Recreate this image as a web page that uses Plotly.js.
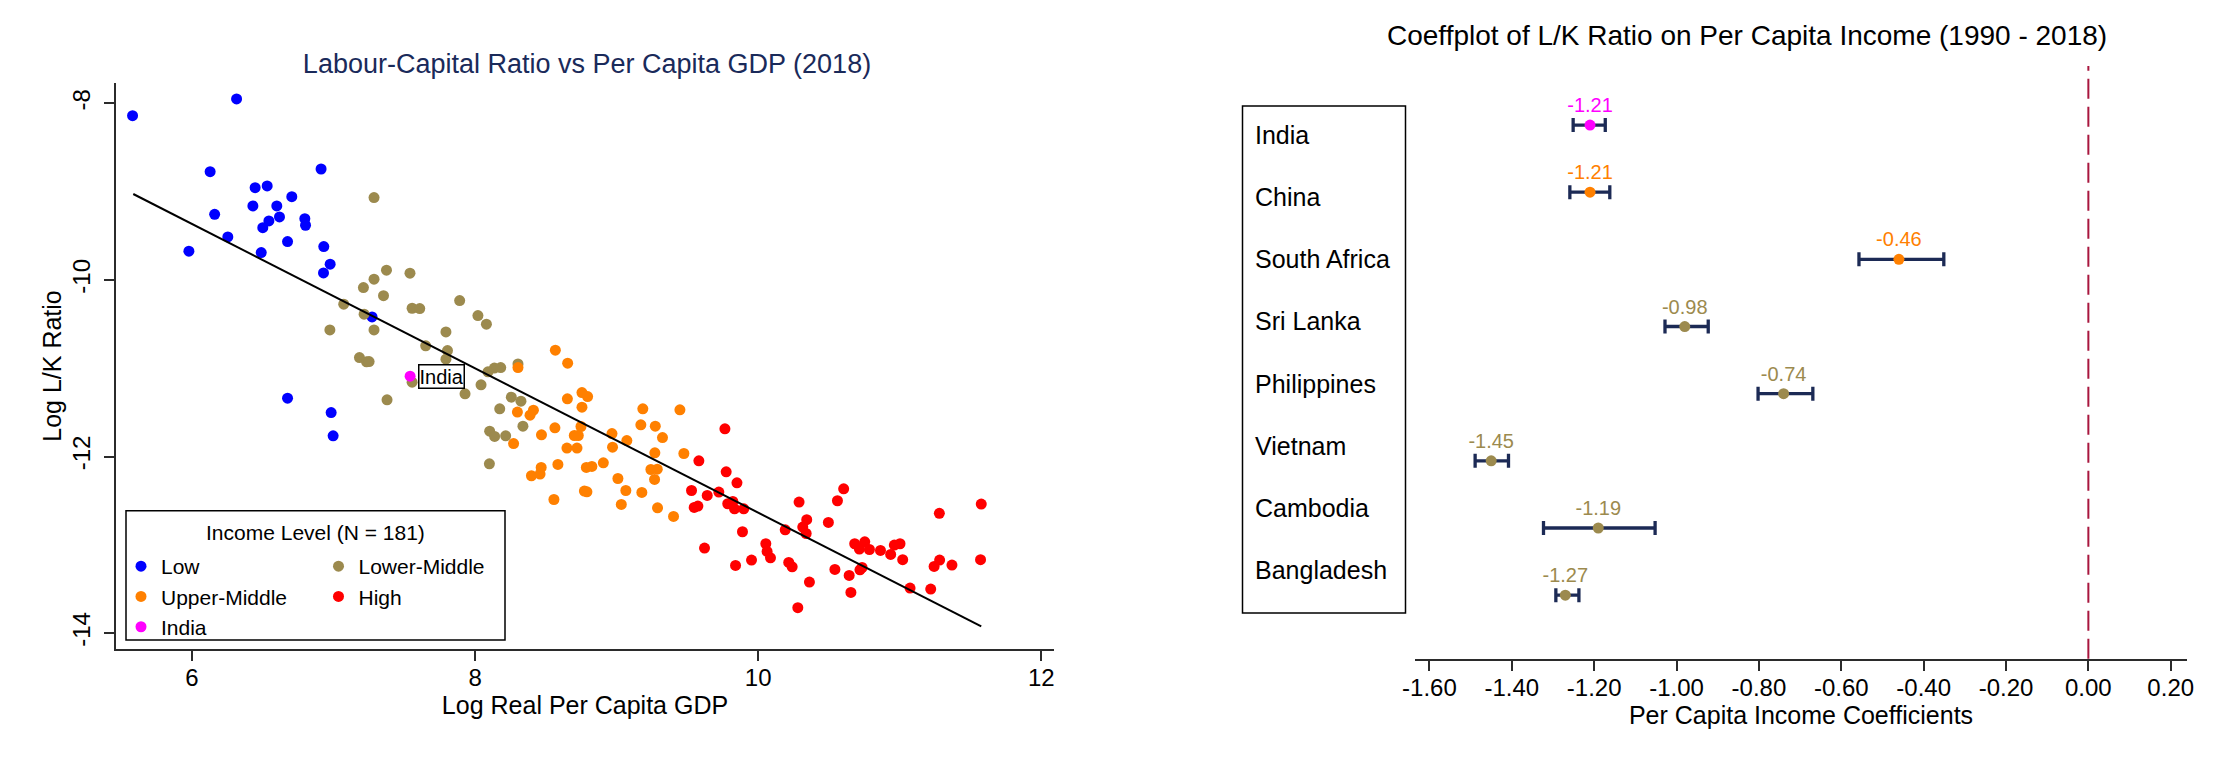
<!DOCTYPE html>
<html>
<head>
<meta charset="utf-8">
<script src="https://cdn.plot.ly/plotly-3.0.1.min.js"></script>
<style>html,body{margin:0;padding:0;background:#fff;}#chart{width:2224px;height:759px;}</style>
</head>
<body>
<div id="chart"></div>
<script>
// ---------- Left panel data: Log real per capita GDP (x) vs Log L/K ratio (y), 2018 ----------
const lowX = [5.58,6.315,6.128,6.912,6.446,6.531,6.705,6.430,6.599,6.160,6.618,6.543,6.500,6.797,6.802,6.253,6.675,6.931,5.978,6.489,6.976,6.929,7.272,6.675,6.983,6.997];
const lowY = [-8.14,-7.95,-8.774,-8.744,-8.955,-8.936,-9.057,-9.162,-9.162,-9.257,-9.287,-9.332,-9.408,-9.306,-9.381,-9.513,-9.566,-9.623,-9.675,-9.691,-9.822,-9.921,-10.419,-11.339,-11.502,-11.766];

const lowerMidX = [7.286,7.374,7.540,7.286,7.211,7.353,7.072,7.891,7.555,7.609,7.216,8.020,8.080,6.974,7.286,7.794,7.651,7.805,7.794,7.183,7.233,7.251,7.929,8.042,7.555,7.378,8.136,8.181,8.091,8.303,8.256,8.324,8.174,8.338,8.103,8.138,8.216,8.101];
const lowerMidY = [-9.068,-9.890,-9.924,-9.992,-10.087,-10.178,-10.275,-10.234,-10.321,-10.325,-10.388,-10.404,-10.502,-10.566,-10.566,-10.589,-10.747,-10.800,-10.898,-10.879,-10.928,-10.925,-11.290,-11.188,-11.158,-11.358,-10.999,-10.993,-11.041,-10.951,-11.328,-11.373,-11.460,-11.656,-11.713,-11.773,-11.766,-12.083];

const upperMidX = [8.567,8.654,8.303,8.755,8.795,8.652,8.755,9.185,9.447,8.299,8.412,8.388,9.171,9.273,8.564,8.748,8.469,8.701,8.729,9.324,8.967,9.072,8.272,8.971,8.649,8.720,9.270,9.475,8.906,8.786,8.825,8.585,8.467,8.398,8.459,9.242,9.287,9.268,9.009,9.065,8.772,8.790,9.178,8.557,9.033,9.289,9.402];
const upperMidY = [-10.796,-10.943,-10.993,-11.276,-11.321,-11.347,-11.441,-11.460,-11.471,-11.497,-11.475,-11.532,-11.641,-11.656,-11.675,-11.660,-11.754,-11.762,-11.762,-11.785,-11.740,-11.819,-11.853,-11.894,-11.905,-11.905,-11.958,-11.966,-12.071,-12.124,-12.113,-12.090,-12.124,-12.218,-12.199,-12.147,-12.143,-12.260,-12.249,-12.385,-12.392,-12.400,-12.407,-12.487,-12.543,-12.581,-12.679];

const highX = [9.765,9.581,9.774,9.850,9.529,9.640,9.722,9.548,9.574,9.785,9.821,9.833,9.898,9.889,9.621,9.840,9.953,10.289,10.604,10.560,10.343,10.496,10.191,10.315,10.339,10.054,10.063,10.087,10.216,10.240,10.362,10.280,10.542,10.643,10.655,10.719,10.734,10.682,10.715,10.753,10.786,10.864,10.936,10.962,11.002,11.021,11.073,11.219,11.280,11.243,11.282,11.369,11.576,11.571];
const highY = [-11.687,-12.049,-12.173,-12.298,-12.385,-12.441,-12.403,-12.577,-12.561,-12.535,-12.509,-12.592,-12.592,-12.852,-13.037,-13.234,-13.173,-12.516,-12.366,-12.501,-12.716,-12.747,-12.830,-12.799,-12.872,-12.988,-13.075,-13.147,-13.200,-13.249,-13.422,-13.712,-13.279,-13.347,-13.539,-13.283,-13.257,-12.988,-13.048,-12.966,-13.053,-13.064,-13.109,-13.003,-12.988,-13.169,-13.490,-13.501,-12.644,-13.245,-13.173,-13.229,-12.539,-13.169];

const indiaX = [7.541];
const indiaY = [-11.090];

// fitted line end points
const fitX = [5.585, 11.576];
const fitY = [-9.027, -13.924];

const leftXTicks = [6, 8, 10, 12];
const leftYTicks = [-14, -12, -10, -8];

// ---------- Right panel data: coefficients with confidence intervals ----------
const coefCountries = ["India","China","South Africa","Sri Lanka","Philippines","Vietnam","Cambodia","Bangladesh"];
const coefValues = [-1.21, -1.21, -0.46, -0.98, -0.74, -1.45, -1.19, -1.27];
const ciLow  = [-1.251, -1.259, -0.557, -1.028, -0.802, -1.489, -1.323, -1.293];
const ciHigh = [-1.173, -1.162, -0.351, -0.923, -0.669, -1.408, -1.052, -1.237];
const coefGroup = ["India","Upper-Middle","Upper-Middle","Lower-Middle","Lower-Middle","Lower-Middle","Lower-Middle","Lower-Middle"];
const rightXTicks = [-1.6,-1.4,-1.2,-1.0,-0.8,-0.6,-0.4,-0.2,0.0,0.2];

// ---------- styling ----------
const W = 2224, H = 759;
const px = v => v / W;
const py = v => 1 - v / H;
const FONT = "Liberation Sans, Arial, Helvetica, sans-serif";
const AX = "#2b2b2b";
const C = {"Low":"#0000ff","Lower-Middle":"#9c8a4e","Upper-Middle":"#ff8000","High":"#ff0000","India":"#ff00ff"};
const NAVY = "#1c2a55";

function sc(name, x, y, leg) {
  return {type:"scatter", mode:"markers", name:name, x:x, y:y, xaxis:"x", yaxis:"y",
    legend: leg, marker:{size:11, color:C[name], line:{width:0}}, hoverinfo:"x+y"};
}

const traces = [
  sc("Low", lowX, lowY, "legend"),
  sc("Lower-Middle", lowerMidX, lowerMidY, "legend2"),
  sc("Upper-Middle", upperMidX, upperMidY, "legend"),
  sc("High", highX, highY, "legend2"),
  {type:"scatter", mode:"lines", x:fitX, y:fitY, xaxis:"x", yaxis:"y", showlegend:false,
   line:{color:"#000", width:2}, hoverinfo:"skip"},
  sc("India", indiaX, indiaY, "legend"),
  {type:"scatter", mode:"markers+text", x:coefValues, y:coefCountries, xaxis:"x2", yaxis:"y2",
   showlegend:false, cliponaxis:false,
   text: coefValues.map(v => v.toFixed(2)), textposition:"top center",
   textfont:{family:FONT, size:20, color: coefGroup.map(g => C[g])},
   marker:{size:11, color: coefGroup.map(g => C[g])},
   error_x:{type:"data", symmetric:false,
     array: ciHigh.map((h,i) => h - coefValues[i]),
     arrayminus: ciLow.map((l,i) => coefValues[i] - l),
     color:NAVY, thickness:3.3, width:7}}
];

const labelAnn = coefCountries.map((c,i) => ({
  xref:"paper", yref:"paper", x:px(1253), y:py(134.8 + i*62.2), xanchor:"left", yanchor:"middle",
  text:c, showarrow:false, font:{family:FONT, size:25, color:"#000"}
}));

const layout = {
  width:W, height:H, margin:{l:0,r:0,t:0,b:0}, paper_bgcolor:"#fff", plot_bgcolor:"#fff",
  font:{family:FONT, color:"#000"},
  title:{text:"Labour-Capital Ratio vs Per Capita GDP (2018)", x:px(587), y:py(64), xanchor:"center", yanchor:"middle",
    font:{family:FONT, size:27, color:"#1a2a5a"}},
  xaxis:{domain:[px(116), px(1054)], range:[5.463, 12.09], anchor:"y",
    tickvals:leftXTicks, ticktext:leftXTicks.map(String), ticks:"outside", ticklen:10, tickwidth:2, tickcolor:AX,
    showline:true, linecolor:AX, linewidth:2, showgrid:false, zeroline:false, ticklabelstandoff:-4,
    tickfont:{size:24}, title:{text:"Log Real Per Capita GDP", font:{size:25}, standoff:0}, automargin:false},
  yaxis:{domain:[py(649), py(83)], range:[-14.18, -7.77], anchor:"x",
    tickvals:leftYTicks, ticktext:leftYTicks.map(String), tickangle:-90, ticks:"outside", ticklen:10, tickwidth:2, tickcolor:AX,
    showline:true, linecolor:AX, linewidth:2, showgrid:false, zeroline:false, ticklabelstandoff:4,
    tickfont:{size:24}, title:{text:"Log L/K Ratio", font:{size:25}, standoff:0}, automargin:false},
  xaxis2:{domain:[px(1415), px(2187)], range:[-1.635, 0.2395], anchor:"y2",
    tickvals:rightXTicks, ticktext:rightXTicks.map(v => v.toFixed(2)), ticks:"outside", ticklen:10, tickwidth:2, tickcolor:AX,
    showline:true, linecolor:AX, linewidth:2, showgrid:false, zeroline:false, ticklabelstandoff:-4,
    tickfont:{size:24}, title:{text:"Per Capita Income Coefficients", font:{size:25}, standoff:6}, automargin:false},
  yaxis2:{domain:[py(658.7), py(66)], type:"category", categoryorder:"array", categoryarray:coefCountries,
    range:[7.946, -0.879], anchor:"x2", showticklabels:false, ticks:"", showline:false, showgrid:false, zeroline:false, automargin:false},
  legend:{x:px(121), y:py(546), xanchor:"left", yanchor:"top", bgcolor:"rgba(0,0,0,0)", borderwidth:0,
    font:{family:FONT, size:21, color:"#000"}, tracegroupgap:0, itemclick:false, itemdoubleclick:false},
  legend2:{x:px(318.5), y:py(546), xanchor:"left", yanchor:"top", bgcolor:"rgba(0,0,0,0)", borderwidth:0,
    font:{family:FONT, size:21, color:"#000"}, tracegroupgap:0, itemclick:false, itemdoubleclick:false},
  shapes:[
    {type:"rect", xref:"paper", yref:"paper", x0:px(126), x1:px(505), y0:py(640), y1:py(510.7),
     line:{color:"#000", width:1.5}, fillcolor:"rgba(0,0,0,0)"},
    {type:"rect", xref:"paper", yref:"paper", x0:px(1242.5), x1:px(1405.5), y0:py(613), y1:py(106),
     line:{color:"#000", width:1.5}, fillcolor:"rgba(0,0,0,0)"},
    {type:"line", xref:"x2", yref:"y2 domain", x0:0, x1:0, y0:0, y1:1,
     line:{color:"#a8163e", width:2, dash:"20px,8px"}}
  ],
  annotations:[
    {xref:"paper", yref:"paper", x:px(1746.5), y:py(35.5), xanchor:"center", yanchor:"middle",
     text:"Coeffplot of L/K Ratio on Per Capita Income (1990 - 2018)", showarrow:false,
     font:{family:FONT, size:28, color:"#000"}},
    {xref:"paper", yref:"paper", x:px(315), y:py(532.3), xanchor:"center", yanchor:"middle",
     text:"Income Level (N = 181)", showarrow:false, font:{family:FONT, size:21, color:"#000"}},
    {xref:"x", yref:"y", x:indiaX[0], y:indiaY[0], xanchor:"left", yanchor:"middle", xshift:8,
     text:"India", showarrow:false, font:{family:FONT, size:20, color:"#000"},
     bordercolor:"#000", borderwidth:1.5, borderpad:0}
  ].concat(labelAnn)
};

Plotly.newPlot("chart", traces, layout, {displayModeBar:false, staticPlot:true});
</script>
</body>
</html>
